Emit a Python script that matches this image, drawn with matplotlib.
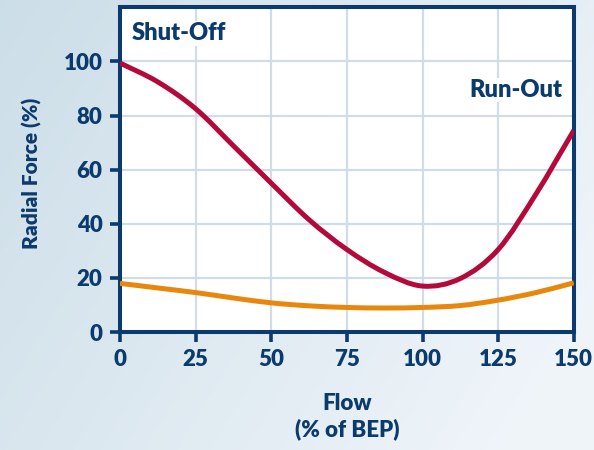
import matplotlib
matplotlib.use("Agg")
import matplotlib.pyplot as plt
from matplotlib.path import Path
from matplotlib.patches import PathPatch
import numpy as np

plt.rcParams['font.family'] = ['Lato', 'DejaVu Sans']

navy = '#0b3a6e'
red = '#b3093b'
orange = '#e8870c'
grid_c = '#d2dce6'

flow = [0, 12.5, 25, 37.5, 50, 62.5, 75, 87.5, 100, 112.5, 125, 137.5, 150]
radial_red = [99.4, 92.4, 82.5, 68.8, 55.0, 41.5, 30.5, 22.0, 17.0, 19.8, 30.5, 51.0, 74.5]
radial_orange = [18.0, 16.3, 14.6, 12.6, 10.8, 9.7, 9.1, 8.9, 9.1, 9.8, 11.8, 14.6, 18.2]

xticks = [0, 25, 50, 75, 100, 125, 150]
yticks = [0, 20, 40, 60, 80, 100]


def smooth_path(xs, ys):
    # catmull-rom through the points, drawn as cubic bezier segments
    p = np.column_stack([xs, ys]).astype(float)
    p = np.vstack([2 * p[0] - p[1], p, 2 * p[-1] - p[-2]])
    verts = [p[1]]
    codes = [Path.MOVETO]
    for i in range(1, len(p) - 2):
        c1 = p[i] + (p[i + 1] - p[i - 1]) / 6
        c2 = p[i + 1] - (p[i + 2] - p[i]) / 6
        verts += [c1, c2, p[i + 1]]
        codes += [Path.CURVE4] * 3
    return Path(verts, codes)


fig = plt.figure(figsize=(5.94, 4.5), dpi=100)

# background gradient
bg = fig.add_axes([0, 0, 1, 1], zorder=-10)
gx, gy = np.meshgrid(np.linspace(0, 1, 200), np.linspace(0, 1, 150))
t = np.clip(0.75 * gx + 0.35 * gy, 0, 1)
c0 = np.array([0.80, 0.87, 0.91])
c1 = np.array([0.94, 0.96, 0.98])
img = c0[None, None, :] * (1 - t[..., None]) + c1[None, None, :] * t[..., None]
bg.imshow(img, aspect='auto', extent=[0, 1, 0, 1], origin='upper')
bg.axis('off')

ax = fig.add_axes([0.202, 0.262, 0.764, 0.722])
ax.set_facecolor('white')
for ys, col in [(radial_orange, orange), (radial_red, red)]:
    ax.add_patch(PathPatch(smooth_path(flow, ys), facecolor='none', edgecolor=col,
                           lw=3.6, capstyle='butt', zorder=3))

ax.set_xlim(0, 150)
ax.set_ylim(0, 120)
ax.set_xticks(xticks)
ax.set_yticks(yticks)
ax.grid(True, color=grid_c, lw=1.6, zorder=0)
ax.set_axisbelow(True)

for s in ax.spines.values():
    s.set_color(navy)
    s.set_linewidth(2.9)
ax.tick_params(colors=navy, length=7.5, width=2.6, labelsize=16, pad=5)
for lb in ax.get_xticklabels() + ax.get_yticklabels():
    lb.set_fontweight('heavy')

ax.set_ylabel('Radial Force (%)', color=navy, fontsize=15, fontweight='heavy')
ax.yaxis.set_label_coords(-0.172, 0.49)
ax.set_xlabel('Flow\n(% of BEP)', color=navy, fontsize=16, fontweight='heavy',
              labelpad=16, linespacing=1.25)

ax.text(0.025, 0.92, 'Shut-Off', transform=ax.transAxes, color=navy,
        fontsize=17, fontweight='heavy', ha='left', va='center',
        bbox=dict(facecolor='white', edgecolor='none', pad=1))
ax.text(0.975, 0.745, 'Run-Out', transform=ax.transAxes, color=navy,
        fontsize=17, fontweight='heavy', ha='right', va='center',
        bbox=dict(facecolor='white', edgecolor='none', pad=1))

plt.savefig('out.png', dpi=100)
